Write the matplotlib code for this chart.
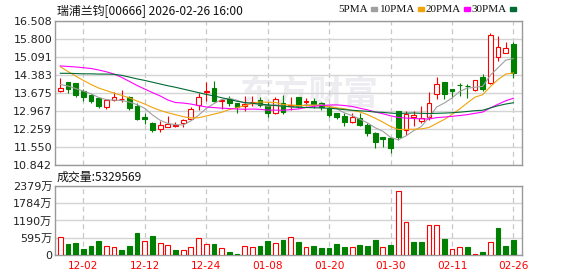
import numpy as np
import pandas as pd
import matplotlib
matplotlib.use('Agg')
import matplotlib.pyplot as plt
from matplotlib.patches import Rectangle

plt.rcParams['font.family'] = ['DejaVu Sans', 'Noto Sans CJK SC']

# trading days shown (MM-DD)
dates = ['11-27', '11-28', '12-01', '12-02', '12-03', '12-04', '12-05', '12-08', '12-09', '12-10',
         '12-11', '12-12', '12-15', '12-16', '12-17', '12-18', '12-19', '12-22', '12-23', '12-24',
         '12-29', '12-30', '12-31', '01-02', '01-05', '01-06', '01-07', '01-08', '01-09', '01-12',
         '01-13', '01-14', '01-15', '01-16', '01-19', '01-20', '01-21', '01-22', '01-23', '01-26',
         '01-27', '01-28', '01-29', '01-30', '02-02', '02-03', '02-04', '02-05', '02-06', '02-09',
         '02-10', '02-11', '02-12', '02-13', '02-16', '02-20', '02-23', '02-24', '02-25', '02-26']
label_dates = ['12-02', '12-12', '12-24', '01-08', '01-20', '01-30', '02-11', '02-26']

opens = [13.77, 14.10, 14.07, 13.75, 13.60, 13.47, 13.11, 13.40, 13.42, 13.52,
         13.16, 12.74, 12.48, 12.27, 12.35, 12.37, 12.50, 12.65, 13.20, 13.73,
         13.88, 13.36, 13.44, 13.27, 13.16, 13.27, 13.40, 13.20, 12.88, 13.27,
         13.16, 13.51, 13.34, 13.36, 13.29, 13.08, 12.88, 12.78, 12.55, 12.68,
         12.42, 12.09, 11.96, 11.89, 12.97, 12.22, 12.74, 12.59, 12.75, 13.64,
         14.10, 13.83, 14.00, 13.96, 13.79, 14.29, 14.06, 15.10, 15.24, 15.60]
highs = [14.28, 14.12, 14.08, 13.83, 13.64, 13.53, 13.42, 13.72, 13.79, 13.55,
         13.27, 12.90, 12.53, 12.59, 12.78, 12.52, 12.67, 13.11, 13.66, 14.10,
         14.14, 13.43, 13.56, 13.29, 13.56, 13.56, 13.51, 13.33, 13.53, 13.60,
         13.53, 13.53, 13.49, 13.47, 13.33, 13.20, 12.88, 12.88, 12.88, 12.88,
         12.48, 12.15, 11.96, 11.93, 12.98, 12.98, 12.97, 13.16, 13.72, 14.32,
         14.10, 13.83, 14.06, 14.04, 14.19, 14.41, 16.04, 15.91, 15.68, 15.69]
lows = [13.72, 13.69, 13.53, 13.37, 13.27, 13.10, 13.03, 13.37, 13.33, 13.00,
        12.61, 12.45, 12.15, 12.15, 12.33, 12.33, 12.35, 12.61, 13.00, 13.36,
        13.33, 13.03, 13.16, 12.88, 12.98, 13.16, 13.11, 12.72, 12.85, 12.85,
        13.01, 13.08, 13.17, 13.08, 13.01, 12.74, 12.64, 12.39, 12.48, 12.39,
        11.99, 11.50, 11.56, 11.33, 11.83, 12.02, 12.39, 12.49, 12.62, 13.44,
        13.45, 13.49, 13.57, 13.49, 13.74, 13.76, 14.03, 14.93, 15.24, 14.28]
closes = [13.87, 13.85, 13.60, 13.53, 13.37, 13.16, 13.40, 13.51, 13.45, 13.07,
          12.65, 12.67, 12.22, 12.40, 12.44, 12.41, 12.61, 13.03, 13.51, 13.77,
          13.37, 13.40, 13.29, 13.12, 13.23, 13.33, 13.19, 12.88, 13.44, 12.94,
          13.20, 13.16, 13.37, 13.24, 13.13, 12.82, 12.72, 12.55, 12.72, 12.42,
          12.09, 11.76, 11.86, 11.52, 11.93, 12.85, 12.79, 12.68, 13.27, 14.02,
          13.64, 13.77, 13.98, 13.94, 14.17, 13.83, 15.94, 15.47, 15.43, 14.47]
# volume in 万 shares
vol_wan = [610, 379, 414, 207, 310, 483, 299, 264, 172, 310,
           759, 483, 655, 402, 333, 172, 172, 264, 575, 379,
           379, 230, 103, 34, 299, 264, 310, 483, 402, 517,
           610, 448, 264, 310, 241, 241, 379, 276, 264, 345,
           310, 517, 264, 345, 2196, 1138, 448, 448, 1023, 1023,
           552, 195, 264, 264, 30, 103, 437, 931, 310, 532.9569]

# moving averages before the window fills (from earlier, unseen closes)
ma5_head = [14.01, 13.95, 13.85, 13.75]
ma10_head = [14.71, 14.52, 14.34, 14.17, 14.01, 13.87, 13.77, 13.67, 13.58]
ma20_head = [14.74, 14.72, 14.70, 14.67, 14.64, 14.58, 14.51, 14.42, 14.29, 14.13,
             13.97, 13.83, 13.69, 13.56, 13.40, 13.30, 13.28, 13.24, 13.18]
ma30_head = [14.45, 14.45, 14.44, 14.43, 14.43, 14.42, 14.42, 14.41, 14.37, 14.30,
             14.23, 14.17, 14.10, 14.03, 13.96, 13.90, 13.83, 13.76, 13.69, 13.62,
             13.56, 13.49, 13.42, 13.35, 13.30, 13.27, 13.24, 13.21, 13.18]

price_ticks = [10.842, 11.550, 12.259, 12.967, 13.675, 14.383, 15.091, 15.800, 16.508]
vol_ticks_wan = [0, 595, 1190, 1784, 2379]

RED = '#ff0000'
GREEN = '#008000'
GRID = '#d4d4d4'
FRAME = '#9a9a9a'
ma_colors = {'5PMA': '#a0a0a0', '10PMA': '#f0a30a', '20PMA': '#ff00ff', '30PMA': '#006b35'}


def moving_avg(head, n):
    s = pd.Series(closes).rolling(n).mean().values
    s[:len(head)] = head
    return s


W, H = 578, 276
fig = plt.figure(figsize=(W / 100, H / 100), dpi=100)
ax = fig.add_axes([55 / W, 1 - 165 / H, 467 / W, 144 / H])
axv = fig.add_axes([55 / W, 1 - 255 / H, 467 / W, 69 / H])

x = np.arange(len(closes))
o = np.array(opens)
c = np.array(closes)
up = c >= o
tick_pos = [dates.index(d) for d in label_dates]

# watermark
ax.text(0.545, 0.49, '东方财富', transform=ax.transAxes, ha='center', va='center',
        fontsize=25, fontweight='bold', color='#ededf1', family=['Noto Sans CJK SC'], zorder=0)

# candles
bw = 0.62
for i in x:
    col = RED if up[i] else GREEN
    ax.vlines(i, lows[i], highs[i], color=col, lw=0.8, zorder=2)
    bottom = min(o[i], c[i])
    hgt = max(abs(c[i] - o[i]), 0.012)
    ax.add_patch(Rectangle((i - bw / 2, bottom), bw, hgt,
                           facecolor='white' if up[i] else GREEN,
                           edgecolor=col, lw=0.8, zorder=3))

ma_lines = [('5PMA', moving_avg(ma5_head, 5)), ('10PMA', moving_avg(ma10_head, 10)),
            ('20PMA', moving_avg(ma20_head, 20)), ('30PMA', moving_avg(ma30_head, 30))]
for name, vals in ma_lines:
    ax.plot(x, vals, color=ma_colors[name], lw=0.8, zorder=4)

ax.set_xlim(-0.69, 60.12)
ax.set_ylim(price_ticks[0], price_ticks[-1])
ax.set_yticks(price_ticks)
ax.set_yticklabels(['%.3f' % t for t in price_ticks])
ax.set_xticks(tick_pos)
ax.set_xticklabels([])

# volume
prev = np.concatenate([[o[0]], c[:-1]])
vol_up = c >= prev
vols = np.array(vol_wan) * 1e4
axv.bar(x, vols, width=bw, color=['white' if u else GREEN for u in vol_up],
        edgecolor=[RED if u else GREEN for u in vol_up], lw=0.8, zorder=3)
axv.set_xlim(-0.69, 60.12)
axv.set_ylim(0, vol_ticks_wan[-1] * 1e4)
axv.set_yticks([v * 1e4 for v in vol_ticks_wan])
axv.set_yticklabels([('%d万' % v) if v else '0' for v in vol_ticks_wan])
axv.set_xticks(tick_pos)
axv.set_xticklabels(label_dates, color=RED, fontsize=7.6)

for a in (ax, axv):
    a.grid(axis='y', color=GRID, lw=1, ls='-', zorder=0)
    a.grid(axis='x', color='#c8c8c8', lw=0.9, ls=(0, (4, 3)), zorder=0)
    a.tick_params(length=0, pad=2, labelsize=8, labelcolor='#222222')
    a.set_axisbelow(True)
    for s in a.spines.values():
        s.set_color(FRAME)
        s.set_linewidth(1)
axv.tick_params(axis='x', pad=4, labelcolor=RED, labelsize=7.6)

# header texts
fig.text(57 / W, 1 - 11 / H, '瑞浦兰钧[00666] 2026-02-26 16:00', fontsize=8.6,
         va='center', ha='left', family=['Noto Sans CJK SC'], color='#111111')
fig.text(57 / W, 1 - 177 / H, '成交量:%d' % round(vol_wan[-1] * 1e4), fontsize=8.6,
         va='center', ha='left', family=['Noto Sans CJK SC'], color='#111111')

lx = [338, 380, 426, 472]
for (name, vals), px in zip(ma_lines, lx):
    t = fig.text(px / W, 1 - 9.5 / H, name, fontsize=8, va='center', ha='left',
                 family=['Liberation Serif'], color='#111111')
    fig.canvas.draw()
    bb = t.get_window_extent()
    fig.patches.append(Rectangle(((bb.x1 + 3) / W, (H - 11) / H), 6 / W, 4 / H,
                                 transform=fig.transFigure, color=ma_colors[name]))

fig.savefig('out.png', dpi=100)
